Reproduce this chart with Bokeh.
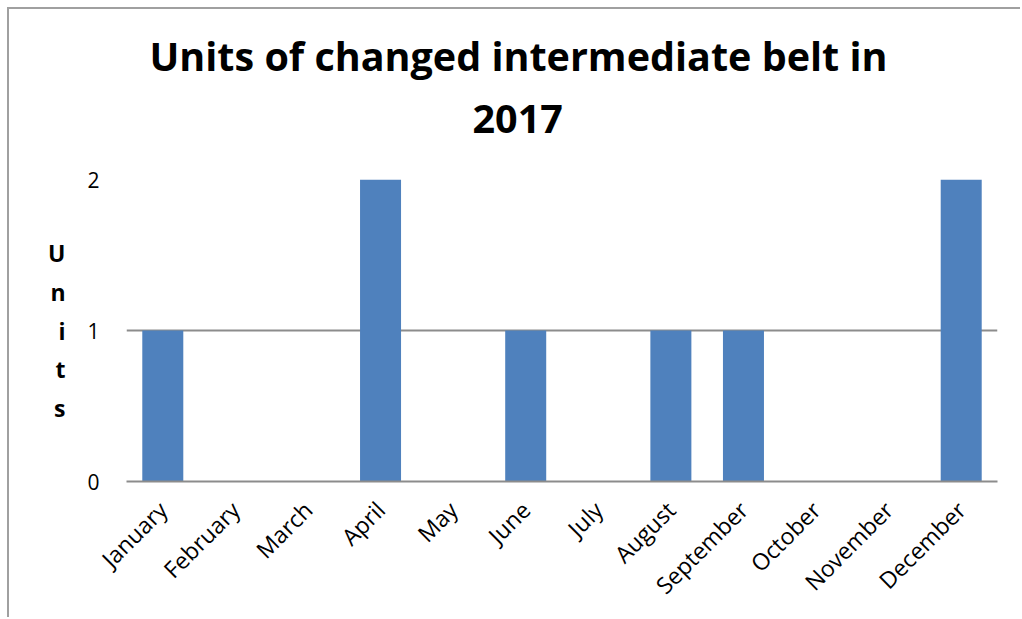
import math
from bokeh.plotting import figure
from bokeh.models import FactorRange, Range1d, FixedTicker, ColumnDataSource, Title
from bokeh.embed import file_html
from bokeh.resources import INLINE

months = ["January", "February", "March", "April", "May", "June", "July",
          "August", "September", "October", "November", "December"]
units = [1, 0, 0, 2, 0, 1, 0, 1, 1, 0, 0, 2]
y_ticks = [0, 1, 2]
title_line1 = "Units of changed intermediate belt in"
title_line2 = "2017"
y_label = "U\nn\ni\nt\ns"

FONT = "Open Sans"
GRID = "#8c8c8c"

src = ColumnDataSource(dict(month=months, units=units))

p = figure(width=1013, height=610, x_range=FactorRange(*months, range_padding=0),
           y_range=Range1d(0, 2), output_backend="svg", toolbar_location=None,
           title=None,
           min_border_left=117, min_border_right=25, min_border_top=170,
           min_border_bottom=138)
p.styles = {"margin-left": "7px", "margin-top": "7px",
            "border-left": "2px solid #a0a0a0", "border-top": "2px solid #a0a0a0"}

p.vbar(x="month", top="units", width=0.565, source=src, color="#4F81BD", line_color=None)

p.outline_line_color = None
p.xgrid.grid_line_color = None
p.ygrid.grid_line_color = GRID
p.ygrid.grid_line_width = 2
p.ygrid.ticker = FixedTicker(ticks=y_ticks)

p.yaxis.ticker = FixedTicker(ticks=y_ticks)
p.yaxis.axis_line_color = None
p.yaxis.major_tick_line_color = None
p.yaxis.minor_tick_line_color = None
p.yaxis.major_label_standoff = 21
p.yaxis.major_label_text_font = FONT
p.yaxis.major_label_text_font_size = "21px"
p.yaxis.major_label_text_color = "black"
p.yaxis.axis_label = y_label
p.yaxis.axis_label_orientation = "horizontal"
p.yaxis.axis_label_text_font = FONT
p.yaxis.axis_label_text_font_style = "bold"
p.yaxis.axis_label_text_font_size = "23px"
p.yaxis.axis_label_text_line_height = 1.21
p.yaxis.axis_label_standoff = 19
p.yaxis.axis_label_text_color = "black"

p.xaxis.axis_line_color = GRID
p.xaxis.axis_line_width = 2
p.xaxis.major_tick_line_color = None
p.xaxis.minor_tick_line_color = None
p.xaxis.major_label_orientation = math.pi / 4
p.xaxis.major_label_standoff = 18
p.xaxis.major_label_text_font = FONT
p.xaxis.major_label_text_font_size = "23px"
p.xaxis.major_label_text_color = "black"

t2 = Title(text=title_line2, align="left", offset=346, text_font=FONT,
           text_font_size="39.5px", text_font_style="bold", text_color="black",
           standoff=94)
t1 = Title(text=title_line1, align="left", offset=23, text_font=FONT,
           text_font_size="39.5px", text_font_style="bold", text_color="black",
           standoff=-54)
p.add_layout(t2, "above")
p.add_layout(t1, "above")

open("out.html", "w").write(file_html(p, INLINE))
